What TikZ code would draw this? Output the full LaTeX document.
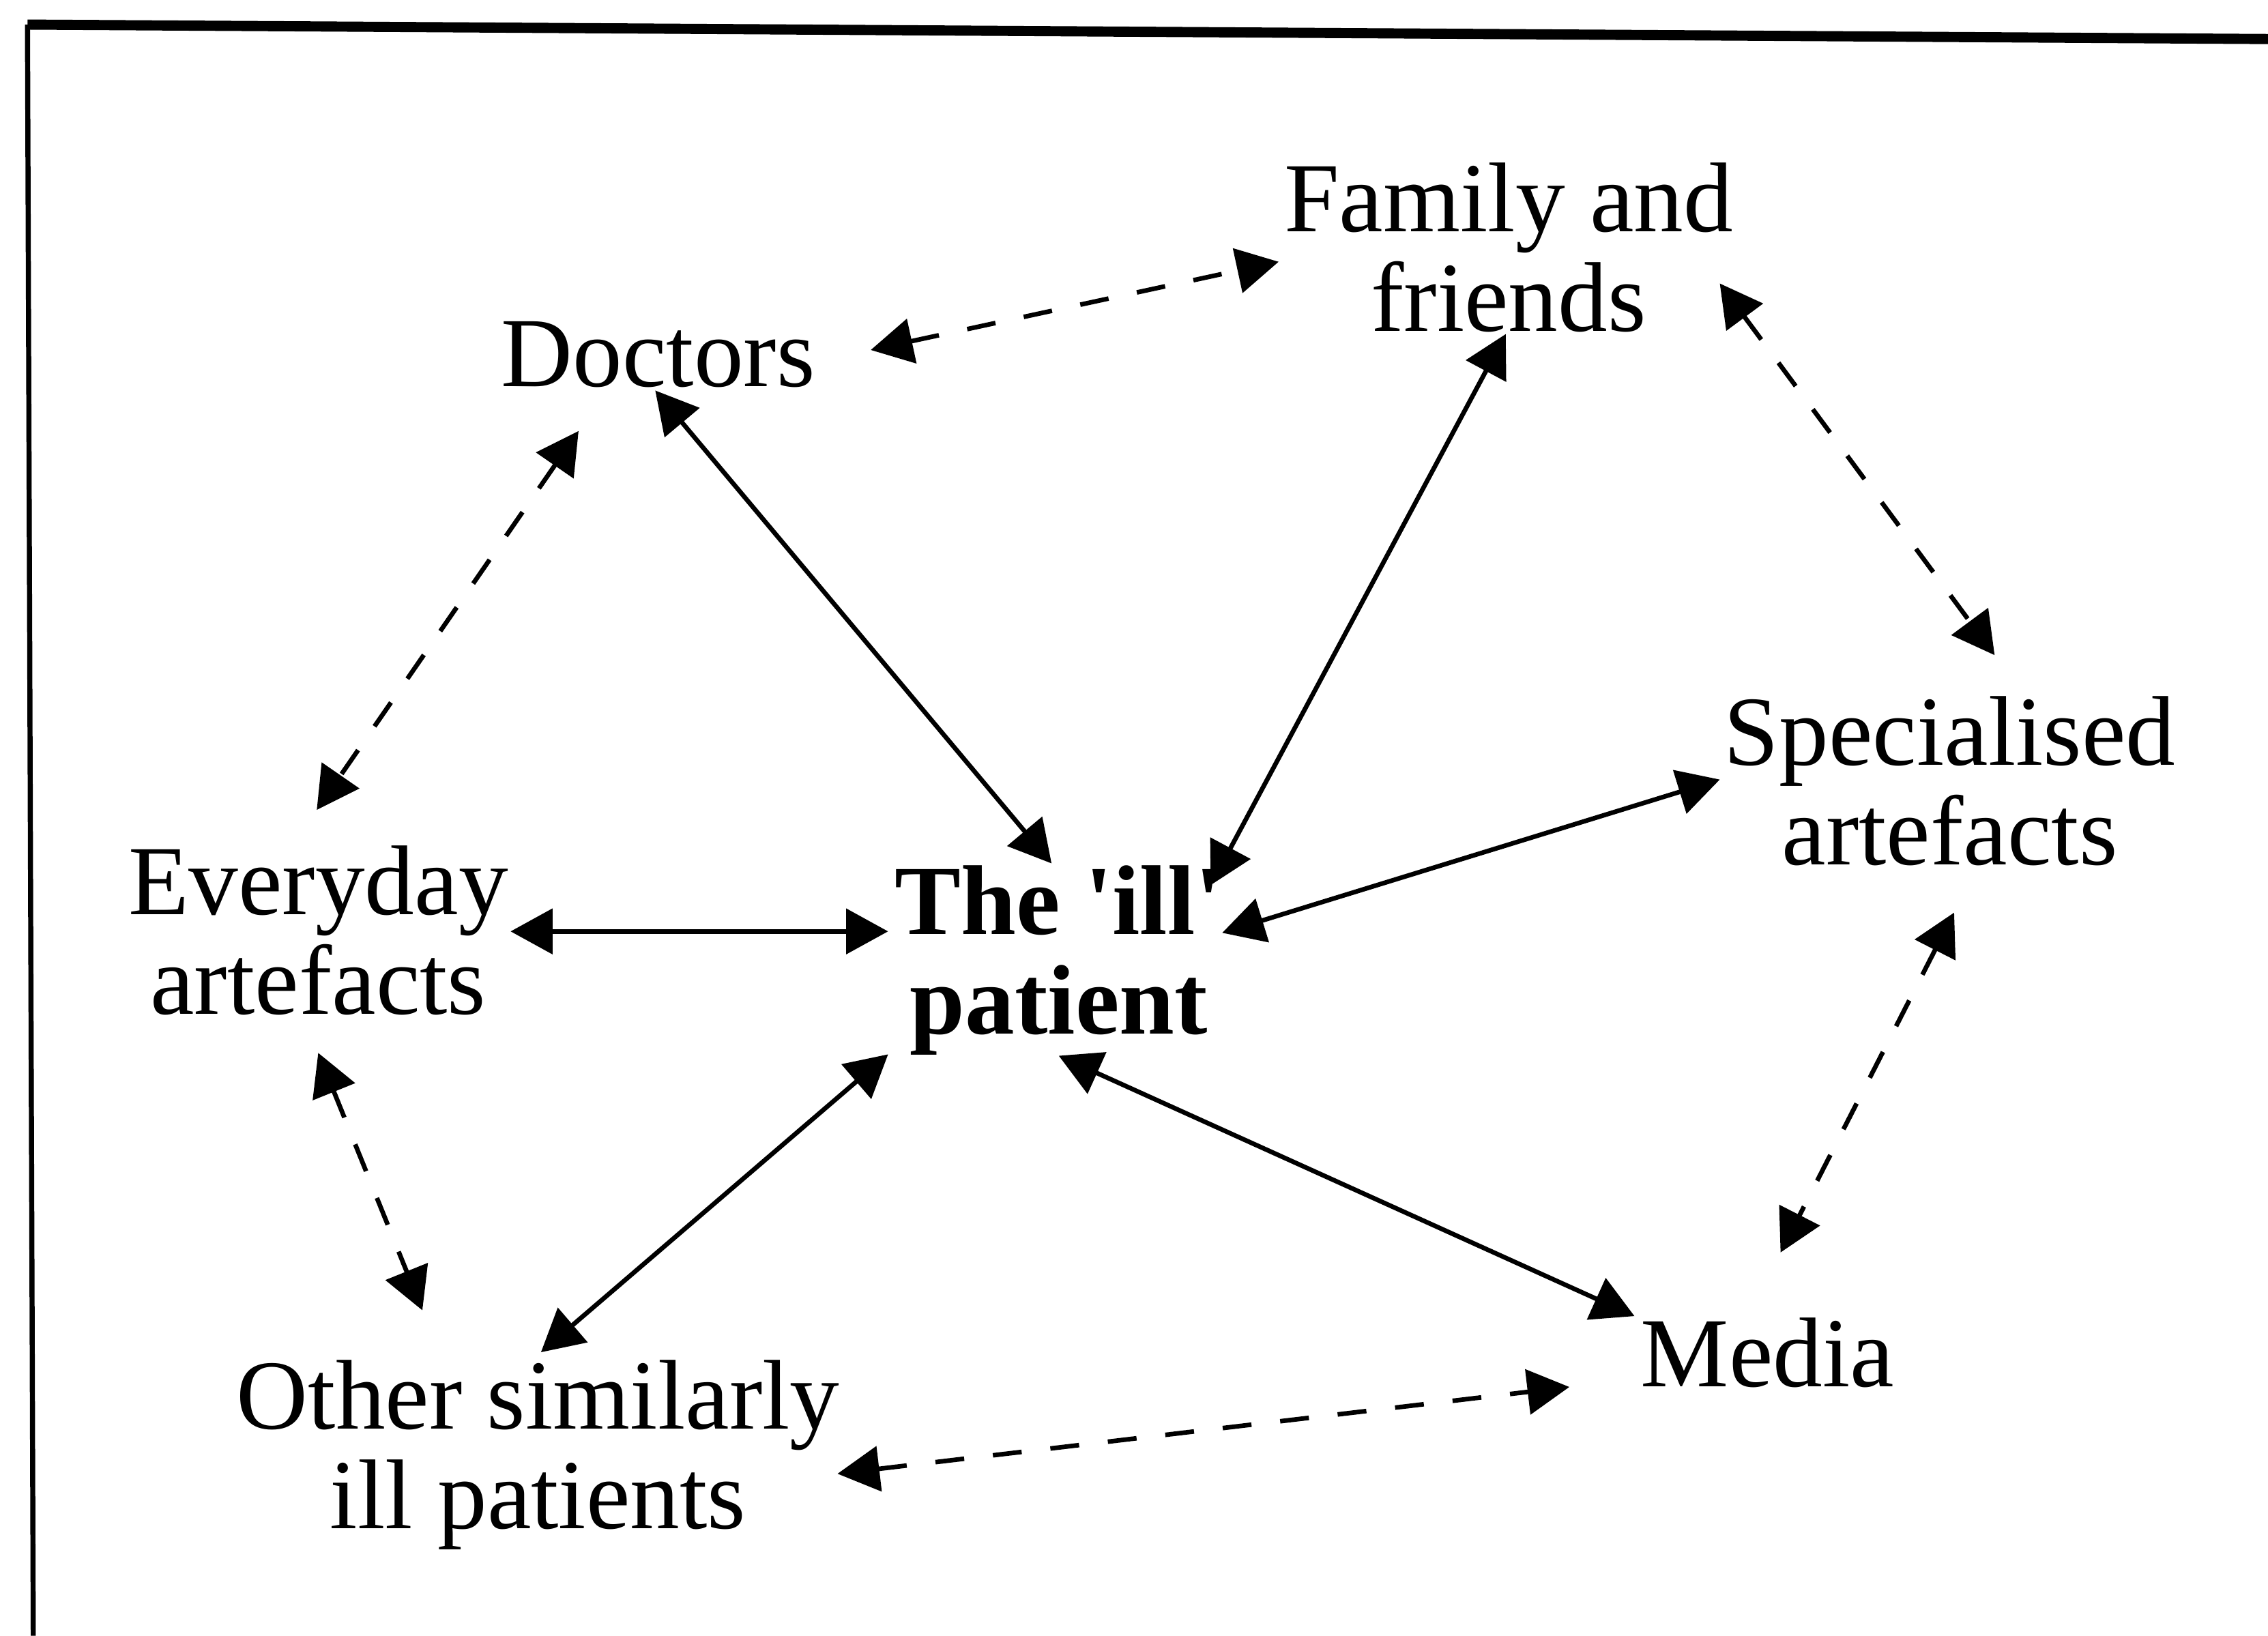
\documentclass[tikz,border=0pt]{standalone}
\usepackage{fontspec}
\setmainfont{Liberation Serif}
\usepackage{tikz}
\usetikzlibrary{arrows.meta}
\tikzset{
  concept/.style={inner sep=0pt, anchor=base, align=center, font=\fontsize{19.5}{19.6}\selectfont},
  link/.style={line width=0.9pt, {Triangle[length=2.9mm,width=3.1mm]}-{Triangle[length=2.9mm,width=3.1mm]}},
  weaklink/.style={link, dash pattern=on 2mm off 2mm}
}
% base of a two-line node is the baseline of its last line
\newcommand{\labl}[4]{\node[concept] (#1) at (#2,#3) {#4};}
\newcommand{\lablbf}[4]{\node[concept, font=\fontsize{19.5}{19.6}\selectfont\bfseries] (#1) at (#2,#3) {#4};}

\begin{document}
\begin{tikzpicture}[x=0.1mm, y=-0.1mm]
        \useasboundingbox (0,0) rectangle (1568,1131);
        \draw[line width=2pt] (19,17) -- (1568,27);
        \draw[line width=1pt] (19,17) -- (23,1131);

        \labl{fam}{1043}{229}{Family and\\friends}
        \labl{doc}{455}{267}{Doctors}
        \labl{spec}{1348}{598}{Specialised\\artefacts}
        \labl{every}{220}{701}{Everyday\\artefacts}
        \lablbf{pat}{732}{715}{The \textquotesingle ill\textquotesingle\\patient}
        \labl{other}{372}{1057}{Other similarly\\ill patients}
        \labl{media}{1222}{959}{Media}

        % links to the patient
        \draw[link] ([shift={(-2,3)}]doc.base) -- ([shift={(-5,-118)}]pat.base);
        \draw[link] ([shift={(-2,2)}]fam.base) -- ([shift={(105,-103)}]pat.base);
        \draw[link] ([shift={(133,-57)}]every.base) -- ([shift={(-118,-71)}]pat.base);
        \draw[link] ([shift={(-159,-59)}]spec.base) -- ([shift={(113,-70)}]pat.base);
        \draw[link] ([shift={(2,-122)}]other.base) -- ([shift={(-118,14)}]pat.base);
        \draw[link] ([shift={(0,15)}]pat.base) -- ([shift={(-92,-49)}]media.base);

        % links round the ring
        \draw[weaklink] ([shift={(147,-25)}]doc.base) -- ([shift={(-159,-48)}]fam.base);
        \draw[weaklink] ([shift={(146,-33)}]fam.base) -- ([shift={(31,-145)}]spec.base);
        \draw[weaklink] ([shift={(3,33)}]spec.base) -- ([shift={(9,-93)}]media.base);
        \draw[weaklink] ([shift={(207,-38)}]other.base) -- ([shift={(-137,0)}]media.base);
        \draw[weaklink] ([shift={(0,27)}]every.base) -- ([shift={(-80,-151)}]other.base);
        \draw[weaklink] ([shift={(-55,31)}]doc.base) -- ([shift={(-1,-141)}]every.base);
\end{tikzpicture}
\end{document}
